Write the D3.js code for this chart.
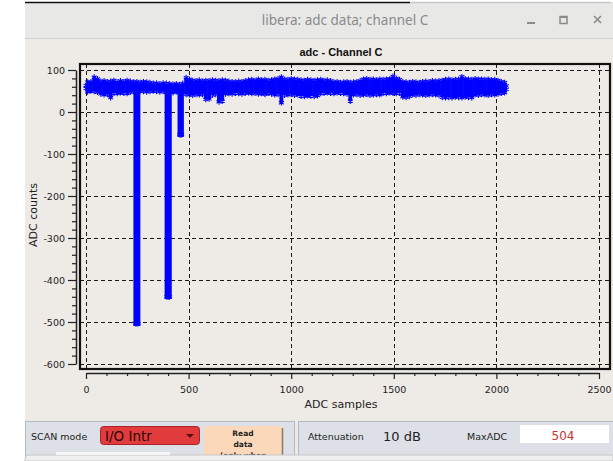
<!DOCTYPE html>
<html>
<head>
<meta charset="utf-8">
<script src="https://cdn.jsdelivr.net/npm/d3@7"></script>
<style>
  html, body { margin: 0; padding: 0; background: #ffffff; }
  svg { display: block; }
  text { font-family: "DejaVu Sans", sans-serif; }
</style>
</head>
<body>
<svg id="chart" width="613" height="461"></svg>
<script>
// ---------------- data ----------------
const chartTitle = "adc - Channel C";
const windowTitle = "libera: adc data; channel C";
const xLabel = "ADC samples";
const yLabel = "ADC counts";

const xTicks = [0, 500, 1000, 1500, 2000, 2500];
const yTicks = [100, 0, -100, -200, -300, -400, -500, -600];

const bucketSize = 16;   // samples per envelope bucket (2048 samples)
// upper envelope of the noisy ADC band, one value per bucket
const bandHigh = [
  71, 72, 83, 79, 73, 74, 72, 73, 75, 71,
  74, 72, 75, 73, 71, 72, 70, 72, 71, 70,
  68, 69, 67, 69, 68, 67, 66, 67, 65, 68,
  82, 78, 75, 74, 76, 73, 75, 74, 76, 75,
  74, 76, 75, 73, 72, 71, 73, 72, 74, 76,
  77, 75, 78, 76, 77, 75, 76, 78, 79, 83,
  78, 77, 79, 78, 77, 76, 75, 77, 76, 75,
  76, 77, 75, 76, 74, 71, 72, 70, 71, 72,
  70, 71, 72, 74, 78, 79, 77, 78, 76, 78,
  77, 78, 79, 85, 80, 77, 72, 71, 70, 72,
  71, 70, 72, 73, 72, 74, 73, 74, 75, 77,
  78, 76, 77, 78, 84, 79, 78, 77, 79, 78,
  78, 77, 78, 76, 77, 75, 72, 70
];
// lower envelope of the noisy ADC band
const bandLow = [
  48, 50, 49, 47, 43, 41, 42, 34, 45, 44,
  46, 45, 44, 47, 49, 48, 50, 49, 48, 49,
  50, 49, 48, 49, 47, 47, 46, 48, 47, 46,
  42, 41, 40, 42, 41, 42, 30, 31, 40, 42,
  24, 26, 43, 44, 43, 45, 44, 43, 45, 46,
  44, 45, 43, 44, 42, 45, 43, 41, 42, 22,
  40, 41, 42, 40, 41, 38, 37, 39, 38, 37,
  39, 44, 45, 46, 45, 44, 46, 45, 44, 43,
  26, 41, 42, 40, 41, 42, 40, 41, 42, 41,
  45, 44, 46, 45, 44, 45, 36, 35, 37, 41,
  40, 42, 41, 40, 41, 42, 41, 40, 35, 34,
  35, 34, 36, 35, 34, 36, 35, 34, 41, 40,
  42, 41, 40, 42, 41, 43, 45, 46
];
// negative pulses
const pulseStart = [242, 394, 457];
const pulseEnd   = [254, 407, 466];
const pulseMin   = [-504, -440, -54];
const pulseTop   = [60, 60, 60];

// ---------------- drawing ----------------
const svg = d3.select("#chart");
const W = 613, H = 461;

// window frame
svg.append("rect").attr("x", 25).attr("y", 2).attr("width", W - 25).attr("height", H - 2).attr("fill", "#eeebe7");
svg.append("rect").attr("x", 25).attr("y", 3).attr("width", W - 25).attr("height", 35).attr("fill", "#e8e8e7");
svg.append("line").attr("x1", 25).attr("x2", W).attr("y1", 38.5).attr("y2", 38.5).attr("stroke", "#d4d2ce");
svg.append("line").attr("x1", 25).attr("x2", 410).attr("y1", 2.5).attr("y2", 2.5).attr("stroke", "#111").attr("stroke-width", 1.5);
svg.append("line").attr("x1", 410).attr("x2", 611).attr("y1", 2.5).attr("y2", 2.5).attr("stroke", "#c8c8c8").attr("stroke-width", 1.5);
svg.append("text").attr("x", 345).attr("y", 25).attr("text-anchor", "middle")
  .attr("font-size", 13.5).attr("fill", "#8a8a8a").style("font-family", "'Noto Sans', sans-serif").text(windowTitle);
// window controls
svg.append("line").attr("x1", 527).attr("x2", 535).attr("y1", 23).attr("y2", 23).attr("stroke", "#8a8a8a").attr("stroke-width", 2);
svg.append("rect").attr("x", 560).attr("y", 16.5).attr("width", 7).attr("height", 7).attr("fill", "none").attr("stroke", "#8a8a8a").attr("stroke-width", 1.5);
svg.append("line").attr("x1", 560).attr("x2", 567).attr("y1", 17).attr("y2", 17).attr("stroke", "#8a8a8a").attr("stroke-width", 2);
svg.append("path").attr("d", "M594,16L601,23M601,16L594,23").attr("stroke", "#8a8a8a").attr("stroke-width", 1.6);

// chart title
svg.append("text").attr("x", 341).attr("y", 56).attr("text-anchor", "middle")
  .attr("font-size", 11).attr("font-weight", "bold").attr("fill", "#111")
  .style("font-family", "'Liberation Sans', Arial, sans-serif").text(chartTitle);

// scales
const xs = d3.scaleLinear().domain([0, 2500]).range([86, 599]);
const ys = d3.scaleLinear().domain([-600, 100]).range([364, 70]);

const frame = { x: 80, y: 64, w: 530, h: 305 };

// grid
const grid = svg.append("g").attr("stroke", "#1a1a1a").attr("stroke-width", 1).attr("stroke-dasharray", "4,3").attr("shape-rendering", "crispEdges");
grid.selectAll("line.h").data(yTicks).join("line").attr("class", "h")
  .attr("x1", frame.x).attr("x2", frame.x + frame.w)
  .attr("y1", d => Math.round(ys(d)) + 0.5).attr("y2", d => Math.round(ys(d)) + 0.5);
grid.selectAll("line.v").data(xTicks).join("line").attr("class", "v")
  .attr("y1", frame.y).attr("y2", frame.y + frame.h)
  .attr("x1", d => Math.round(xs(d)) + 0.5).attr("x2", d => Math.round(xs(d)) + 0.5);

// data band
const blue = "#0000ff";
const dataG = svg.append("g");
const buckets = bandHigh.map((h, i) => ({ s: i * bucketSize, hi: h, lo: bandLow[i] }));
dataG.selectAll("rect.band").data(buckets).join("rect").attr("class", "band")
  .attr("x", d => xs(d.s) - 0.3)
  .attr("width", d => xs(d.s + bucketSize) - xs(d.s) + 0.6)
  .attr("y", d => ys(d.hi))
  .attr("height", d => ys(d.lo) - ys(d.hi))
  .attr("fill", blue);

// pulses
const pulses = pulseStart.map((s, i) => ({ s, e: pulseEnd[i], min: pulseMin[i], top: pulseTop[i] }));
dataG.selectAll("rect.pulse").data(pulses).join("rect").attr("class", "pulse")
  .attr("x", d => xs(d.s)).attr("width", d => xs(d.e) - xs(d.s))
  .attr("y", d => ys(d.top)).attr("height", d => ys(d.min) - ys(d.top))
  .attr("fill", blue).attr("stroke", blue).attr("stroke-width", 4.5);

// star markers for fuzzy edges
const star = d3.symbol().type(d3.symbolAsterisk).size(22);
const edgePts = [];
buckets.forEach(d => {
  edgePts.push({ s: d.s + bucketSize / 2, v: d.hi });
  edgePts.push({ s: d.s + bucketSize / 2, v: d.lo });
});
edgePts.push({ s: 0, v: bandHigh[0] - 8 }, { s: 0, v: bandLow[0] + 8 });
edgePts.push({ s: 2048, v: bandHigh[127] - 8 }, { s: 2048, v: bandLow[127] + 8 });
pulses.forEach(p => {
  edgePts.push({ s: p.s, v: p.min }, { s: p.e, v: p.min }, { s: (p.s + p.e) / 2, v: p.min });
});
dataG.selectAll("path.star").data(edgePts).join("path").attr("class", "star")
  .attr("transform", d => `translate(${xs(d.s)},${ys(d.v)})`)
  .attr("d", star).attr("fill", "none").attr("stroke", blue).attr("stroke-width", 1.1);

// frame
svg.append("rect").attr("x", frame.x).attr("y", frame.y).attr("width", frame.w).attr("height", frame.h)
  .attr("fill", "none").attr("stroke", "#111").attr("stroke-width", 2.2);

// y axis
const yMinor = d3.range(-600, 101, 20).filter(v => v % 100 !== 0);
const yAxisG = svg.append("g").attr("transform", "translate(76,0)");
yAxisG.call(d3.axisLeft(ys).tickValues(yTicks).tickSize(8).tickSizeOuter(0).tickPadding(3).tickFormat(d => String(d)));
svg.append("g").attr("transform", "translate(76,0)")
  .call(d3.axisLeft(ys).tickValues(yMinor).tickSize(4).tickSizeOuter(0).tickFormat(""))
  .select(".domain").remove();

// x axis
const xMinor = d3.range(0, 2501, 100).filter(v => v % 500 !== 0);
const xAxisG = svg.append("g").attr("transform", "translate(0,373)");
xAxisG.call(d3.axisBottom(xs).tickValues(xTicks).tickSize(6).tickSizeOuter(0).tickPadding(7).tickFormat(d => String(d)));
svg.append("g").attr("transform", "translate(0,373)")
  .call(d3.axisBottom(xs).tickValues(xMinor).tickSize(3).tickSizeOuter(0).tickFormat(""))
  .select(".domain").remove();

svg.selectAll(".tick text").attr("font-size", 9.5).attr("fill", "#222").style("font-family", "'DejaVu Sans', sans-serif");
svg.selectAll(".tick line").attr("stroke", "#222").attr("stroke-width", 1.2);
svg.selectAll(".domain").attr("stroke", "#222").attr("stroke-width", 1.5);

// axis titles
svg.append("text").attr("x", 341).attr("y", 408).attr("text-anchor", "middle")
  .attr("font-size", 11).attr("fill", "#222").text(xLabel);
svg.append("text").attr("transform", "translate(37,215) rotate(-90)").attr("text-anchor", "middle")
  .attr("font-size", 11).attr("fill", "#222").text(yLabel);

// bottom control panels
const panel = svg.append("g");
panel.append("rect").attr("x", 25.5).attr("y", 421.5).attr("width", 269).attr("height", 45).attr("fill", "#dde1e7").attr("stroke", "#b4b8bf");
panel.append("rect").attr("x", 298.5).attr("y", 421.5).attr("width", 320).attr("height", 45).attr("fill", "#dde1e7").attr("stroke", "#b4b8bf");
panel.append("text").attr("x", 31).attr("y", 440).attr("font-size", 9.5).attr("fill", "#222").text("SCAN mode");
panel.append("rect").attr("x", 100.5).attr("y", 426.5).attr("width", 99).attr("height", 18).attr("rx", 3)
  .attr("fill", "#e23b3d").attr("stroke", "#a82426");
panel.append("text").attr("x", 105).attr("y", 441).attr("font-size", 13.5).attr("fill", "#2a0505").text("I/O Intr");
panel.append("path").attr("d", "M186,434L194,434L190,438Z").attr("fill", "#5a1010");
panel.append("rect").attr("x", 204).attr("y", 426).attr("width", 78).attr("height", 40).attr("fill", "#fcd8bb");
panel.append("line").attr("x1", 282.5).attr("x2", 282.5).attr("y1", 428).attr("y2", 461).attr("stroke", "#8b7b6b").attr("stroke-width", 1.5);
[["Read", 436], ["data", 447], ["(only when", 458]].forEach(([t, y]) => {
  panel.append("text").attr("x", 243).attr("y", y).attr("text-anchor", "middle")
    .attr("font-size", 7.5).attr("font-weight", "bold").attr("fill", "#222").text(t);
});
panel.append("text").attr("x", 308).attr("y", 440).attr("font-size", 9.5).attr("fill", "#222").text("Attenuation");
panel.append("text").attr("x", 383).attr("y", 441).attr("font-size", 13).attr("fill", "#222").text("10 dB");
panel.append("text").attr("x", 467).attr("y", 440).attr("font-size", 9.5).attr("fill", "#222").text("MaxADC");
panel.append("rect").attr("x", 520).attr("y", 425).attr("width", 89).attr("height", 18).attr("fill", "#ffffff");
panel.append("text").attr("x", 563).attr("y", 439.5).attr("text-anchor", "middle")
  .attr("font-size", 12).attr("fill", "#cc3333").text("504");
// bottom strip of the next window row
svg.append("path").attr("d", "M25,461L25,459Q25,455 29,455L613,455L613,461Z").attr("fill", "#efefef").attr("stroke", "#c8c8c8");
svg.append("rect").attr("x", 56).attr("y", 452).attr("width", 114).attr("height", 3).attr("fill", "#f6f6f6");
</script>
</body>
</html>
